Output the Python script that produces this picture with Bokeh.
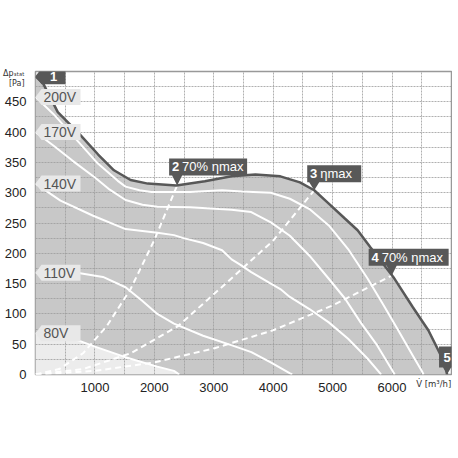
from bokeh.plotting import figure
from bokeh.models import FixedTicker, Range1d, LinearAxis
from bokeh.core.properties import value
from bokeh.embed import file_html
from bokeh.resources import INLINE

# ---------------- data ----------------
x_ticks = [1000, 2000, 3000, 4000, 5000, 6000]
y_ticks = [0, 50, 100, 150, 200, 250, 300, 350, 400, 450]

# maximum curve (dark line, points 1..5)
dark_v = [0, 130, 375, 730, 1054, 1320, 1600, 1890, 2370, 2850, 3300, 3700, 4120,
          4450, 4690, 4935, 5210, 5420, 5635, 6020, 6350, 6610, 6890, 6925]
dark_p = [492, 480, 433, 398, 363, 337, 321, 315, 312, 319, 327, 330, 327,
          317, 304, 282, 257, 238, 210, 161, 111, 73, 18, 0]

# voltage curves
v200_v = [0, 300, 730, 1050, 1380, 1515, 1750, 1950, 2600, 3140, 3470, 3960, 4280,
          4610, 4935, 5260, 5590, 5860, 6120, 6350, 6510, 6530]
v200_p = [458, 430, 383, 348, 320, 310, 304, 301, 301, 304, 302, 300, 290,
          273, 246, 207, 158, 114, 70, 31, 4, 0]

v170_v = [0, 300, 620, 1000, 1250, 1515, 1800, 2050, 2600, 3090, 3300, 3630, 3960,
          4280, 4610, 4935, 5210, 5470, 5750, 6020, 6045]
v170_p = [400, 378, 353, 325, 305, 288, 280, 277, 276, 273, 272, 268, 251,
          229, 196, 158, 125, 86, 48, 4, 0]

v140_v = [0, 420, 970, 1515, 2050, 2330, 2490, 2820, 3140, 3300, 3450, 3630, 3960,
          4120, 4280, 4610, 4935, 5260, 5590, 5800, 5815]
v140_p = [315, 287, 262, 240, 234, 230, 225, 217, 205, 190, 181, 169, 150,
          141, 128, 108, 86, 59, 26, 2, 0]

v110_v = [0, 750, 1135, 1515, 1790, 2050, 2330, 2820, 3306, 3632, 3958, 4283, 4320]
v110_p = [168, 167, 161, 144, 122, 100, 84, 64, 48, 37, 20, 2, 0]

v80_v = [0, 400, 730, 1000, 1500, 2050, 2330, 2420]
v80_p = [68, 62, 56, 46, 29, 13, 6, 0]

volt_names = ["200V", "170V", "140V", "110V", "80V"]

# system curves (dashed) to the operating points 2, 3, 4
sys2_v = [0, 400, 800, 1200, 1600, 2000, 2383]
sys2_p = [0, 9, 35, 80, 141, 222, 312]
sys3_v = [0, 800, 1600, 2400, 3200, 4000, 4690]
sys3_p = [0, 9, 35, 80, 150, 221, 304]
sys4_v = [0, 1000, 2000, 3000, 4000, 5000, 5993]
sys4_p = [0, 6, 20, 43, 73, 114, 163]

# operating point tags
tag_num = ["1", "2", "3", "4", "5"]
tag_txt = ["", "70% ηmax", "ηmax", "70% ηmax", ""]
tag_v = [dark_v[0], sys2_v[-1], sys3_v[-1], sys4_v[-1], dark_v[-1]]
tag_p = [dark_p[0], sys2_p[-1], sys3_p[-1], sys4_p[-1], dark_p[-1]]

# axis titles (placed as extra axis labels)
x_title = "V\u0307 [m³/h]"
x_title_at = 6700
y_title = ["Δpₛₜₐₜ", "[Pa]"]
y_title_at = [496, 481]

# ---------------- styling / layout ----------------
FONT = "Liberation Sans"
FW, FH = 416, 303
XMAX, YMAX = 7000, 500
SX = XMAX / FW
SY = YMAX / FH

GRAY_FILL = "#c8c8c8"
LIGHT_FILL = "#ececec"
DARK = "#585858"
LABEL_BOX = "#e8e8e8"

p = figure(frame_width=FW, frame_height=FH,
           x_range=Range1d(0, XMAX), y_range=Range1d(0, YMAX),
           output_backend="svg", toolbar_location=None,
           min_border_left=25, min_border_right=1, min_border_top=71, min_border_bottom=26,
           background_fill_color="white", border_fill_color="white")

p.outline_line_color = "#999999"
p.outline_line_width = 1.5


def style_axis(ax, size):
    ax.axis_line_color = None
    ax.major_tick_line_color = None
    ax.minor_tick_line_color = None
    ax.major_label_text_font = FONT
    ax.major_label_text_font_size = size
    ax.major_label_text_color = "#222222"


style_axis(p.xaxis[0], "13px")
style_axis(p.yaxis[0], "13px")
p.xaxis[0].ticker = FixedTicker(ticks=x_ticks)
p.yaxis[0].ticker = FixedTicker(ticks=y_ticks)
p.xaxis[0].major_label_standoff = 2
p.yaxis[0].major_label_standoff = 3

# x title: second bottom axis, pulled up into the tick-label row
xa2 = LinearAxis(ticker=FixedTicker(ticks=[x_title_at]),
                 major_label_overrides={x_title_at: x_title})
style_axis(xa2, "8.5px")
xa2.major_label_text_font = "DejaVu Sans"
xa2.major_label_text_color = "#333333"
xa2.major_label_standoff = -22
p.add_layout(xa2, "below")

# y title: second left axis, pulled right into the tick-label column
ya2 = LinearAxis(ticker=FixedTicker(ticks=y_title_at),
                 major_label_overrides=dict(zip(y_title_at, y_title)))
style_axis(ya2, "8px")
ya2.major_label_text_font = "DejaVu Sans"
ya2.major_label_text_color = "#333333"
ya2.major_label_standoff = -29
p.add_layout(ya2, "left")

p.xgrid.ticker = FixedTicker(ticks=list(range(500, XMAX, 500)))
p.ygrid.ticker = FixedTicker(ticks=list(range(25, YMAX, 25)))
for g in (p.xgrid[0], p.ygrid[0]):
    g.grid_line_color = "#9c9c9c"
    g.grid_line_width = 1
    g.grid_line_dash = "2 1"
    g.grid_line_alpha = 0.8

# fills (below the grid)
r1 = p.varea(x=dark_v, y1=[0] * len(dark_v), y2=dark_p, fill_color=GRAY_FILL)
r1.level = "image"
r2 = p.varea(x=v80_v, y1=[0] * len(v80_v), y2=v80_p, fill_color=LIGHT_FILL)
r2.level = "image"

# voltage curves
for vv, pp in [(v200_v, v200_p), (v170_v, v170_p), (v140_v, v140_p),
               (v110_v, v110_p), (v80_v, v80_p)]:
    p.line(vv, pp, line_color="white", line_width=2)

# system curves
for vv, pp in [(sys2_v, sys2_p), (sys3_v, sys3_p), (sys4_v, sys4_p)]:
    p.line(vv, pp, line_color="white", line_width=2, line_dash="6 4")

# max curve
p.line(dark_v, dark_p, line_color=DARK, line_width=2.5)

# voltage label boxes (left-pointing)
starts = [v200_p[0], v170_p[0], v140_p[0], v110_p[0], v80_p[0]]
bx, by = [], []
for s in starts:
    pts = [(0, 0), (6, 8), (45, 8), (45, -8), (6, -8)]
    bx.append([a * SX for a, b in pts])
    by.append([s + b * SY for a, b in pts])
p.patches(bx, by, fill_color=LABEL_BOX, line_color=None)
p.text(x=[8 * SX] * 5, y=starts, text=volt_names, text_font=value(FONT),
       text_font_size="14px", text_color="#555555", text_baseline="middle",
       text_align="left")

# operating point tags
geom = {1: (-8, 70, 10, 27, 5), 2: (-7, 47, 8, 25, 5), 3: (-23, 57, 10, 27, 5),
        4: (-8, 8, 7, 28, 4)}
tx, ty = [], []
num_x, num_y, txt_x, txt_y = [], [], [], []
for i in range(5):
    v0, p0 = tag_v[i], tag_p[i]
    if i == 0:
        pts = [(0, 0), (6, 8), (30, 8), (30, -8), (6, -8)]
        num_x.append(v0 + 18 * SX)
        num_y.append(p0)
        txt_x.append(v0)
        txt_y.append(p0)
    else:
        L, R, B, T, hw = geom[i]
        pts = [(L, B), (-hw, B), (0, 0), (hw, B), (R, B), (R, T), (L, T)]
        if i == 4:
            num_x.append(v0)
        else:
            num_x.append(v0 + (L + 6.5) * SX)
        num_y.append(p0 + (B + T) / 2 * SY)
        txt_x.append(v0 + (L + 13) * SX)
        txt_y.append(p0 + (B + T) / 2 * SY)
    tx.append([v0 + a * SX for a, b in pts])
    ty.append([p0 + b * SY for a, b in pts])
p.patches(tx, ty, fill_color=DARK, line_color=None)
p.text(x=num_x, y=num_y, text=tag_num, text_font=value(FONT), text_font_size="13px",
       text_font_style="bold", text_color="white", text_baseline="middle",
       text_align="center")
p.text(x=txt_x, y=txt_y, text=tag_txt, text_font=value(FONT), text_font_size="13px",
       text_color="white", text_baseline="middle", text_align="left")

open("out.html", "w").write(file_html(p, INLINE))
